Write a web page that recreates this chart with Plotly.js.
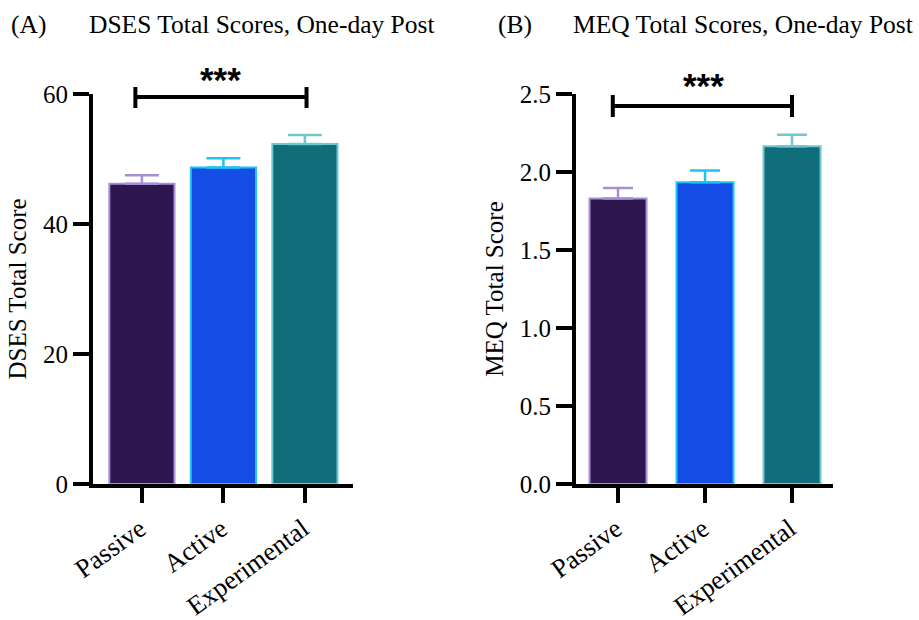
<!DOCTYPE html>
<html>
<head>
<meta charset="utf-8">
<script src="https://cdn.plot.ly/plotly-3.0.1.min.js"></script>
<style>html,body{margin:0;padding:0;background:#fff;}#chart{width:919px;height:620px;}</style>
</head>
<body>
<div id="chart"></div>
<script>
// ---- data ----
const groups = ["Passive", "Active", "Experimental"];
const dsesMean = [46.2, 48.7, 52.3];
const dsesSem = [1.3, 1.4, 1.4];
const meqMean = [1.83, 1.935, 2.165];
const meqSem = [0.068, 0.074, 0.073];
const dsesTicks = [0, 20, 40, 60];
const meqTicks = [0, 0.5, 1.0, 1.5, 2.0, 2.5];
const meqTickText = ["0.0", "0.5", "1.0", "1.5", "2.0", "2.5"];

// ---- styles ----
const fills = ["#2e1650", "#134de6", "#0f6e7a"];
const edges = ["#a78fd8", "#20c4f4", "#70c8cc"];
const serif = "Liberation Serif, Times New Roman, serif";
const xPos = groups.map((g, i) => i);

// one trace per bar so error bar colours follow the bar outline
const traces = [];
groups.forEach((g, i) => {
  traces.push({
    type: "bar", x: [i], y: [dsesMean[i]], xaxis: "x", yaxis: "y", width: 0.8,
    marker: {color: fills[i], line: {color: edges[i], width: 2}},
    error_y: {type: "data", symmetric: false, array: [dsesSem[i]], arrayminus: [0],
      color: edges[i], thickness: 2.5, width: 17},
    showlegend: false, hoverinfo: "skip"
  });
  traces.push({
    type: "bar", x: [i], y: [meqMean[i]], xaxis: "x2", yaxis: "y2", width: 0.655,
    marker: {color: fills[i], line: {color: edges[i], width: 2}},
    error_y: {type: "data", symmetric: false, array: [meqSem[i]], arrayminus: [0],
      color: edges[i], thickness: 2.5, width: 15},
    showlegend: false, hoverinfo: "skip"
  });
});

const W = 919, H = 620;
const yDom = [(H - 484) / H, (H - 94) / H];
const FS = 25;

const xCommon = {
  tickmode: "array", tickvals: xPos, ticktext: groups, tickangle: -36,
  showline: true, linecolor: "#000", linewidth: 4, ticks: "outside", ticklen: 15,
  tickwidth: 4, tickcolor: "#000", showgrid: false, zeroline: false,
  tickfont: {family: serif, size: 26.5, color: "#000"}, fixedrange: true, ticklabelshift: -2
};
const yCommon = {
  showline: true, linecolor: "#000", linewidth: 4, ticks: "outside", ticklen: 16,
  tickwidth: 4, tickcolor: "#000", showgrid: false, zeroline: false,
  tickfont: {family: serif, size: FS, color: "#000"}, domain: yDom, fixedrange: true
};

function bracket(xref, x0, x1, yl, yc0, yc1) {
  const ln = {color: "#000", width: 4};
  return [
    {type: "line", xref: xref, yref: "paper", x0: x0, x1: x1, y0: yl, y1: yl, line: ln},
    {type: "line", xref: xref, yref: "paper", x0: x0, x1: x0, y0: yc0, y1: yc1, line: ln},
    {type: "line", xref: xref, yref: "paper", x0: x1, x1: x1, y0: yc0, y1: yc1, line: ln}
  ];
}
const py = v => (H - v) / H;

const layout = {
  width: W, height: H, autosize: false,
  margin: {l: 0, r: 0, t: 0, b: 0},
  paper_bgcolor: "#fff", plot_bgcolor: "#fff",
  barmode: "overlay",
  xaxis: Object.assign({}, xCommon, {domain: [93 / W, 353 / W], range: [-0.6, 2.59], anchor: "y"}),
  yaxis: Object.assign({}, yCommon, {range: [0, 60], tickvals: dsesTicks, anchor: "x",
    title: {text: "DSES Total Score", font: {family: serif, size: FS, color: "#000"}, standoff: 10}}),
  xaxis2: Object.assign({}, xCommon, {domain: [576 / W, 833 / W], range: [-0.483, 2.471], anchor: "y2"}),
  yaxis2: Object.assign({}, yCommon, {range: [0, 2.5], tickvals: meqTicks, ticktext: meqTickText, anchor: "x2",
    title: {text: "MEQ Total Score", font: {family: serif, size: FS, color: "#000"}, standoff: 10}}),
  shapes: [].concat(
    bracket("x", -0.08, 2.02, py(97), py(87), py(108)),
    bracket("x2", -0.06, 2.0, py(106), py(95), py(117))
  ),
  annotations: [
    {xref: "paper", yref: "paper", x: 9 / W, y: py(25), xanchor: "left", yanchor: "middle", showarrow: false,
      text: "(A)", font: {family: serif, size: 25.5, color: "#000"}},
    {xref: "paper", yref: "paper", x: 87 / W, y: py(25), xanchor: "left", yanchor: "middle", showarrow: false,
      text: "DSES Total Scores, One-day Post", font: {family: serif, size: 25.5, color: "#000"}},
    {xref: "paper", yref: "paper", x: 496 / W, y: py(25), xanchor: "left", yanchor: "middle", showarrow: false,
      text: "(B)", font: {family: serif, size: 25.5, color: "#000"}},
    {xref: "paper", yref: "paper", x: 571 / W, y: py(25), xanchor: "left", yanchor: "middle", showarrow: false,
      text: "MEQ Total Scores, One-day Post", font: {family: serif, size: 25.5, color: "#000"}},
    {xref: "x", yref: "paper", x: 0.96, y: py(79), xanchor: "center", yanchor: "middle", showarrow: false,
      text: "<b>***</b>", font: {family: "Liberation Sans, Arial, sans-serif", size: 35, color: "#000"}},
    {xref: "x2", yref: "paper", x: 0.98, y: py(86), xanchor: "center", yanchor: "middle", showarrow: false,
      text: "<b>***</b>", font: {family: "Liberation Sans, Arial, sans-serif", size: 35, color: "#000"}}
  ]
};

Plotly.newPlot("chart", traces, layout, {displayModeBar: false, staticPlot: true});
</script>
</body>
</html>
